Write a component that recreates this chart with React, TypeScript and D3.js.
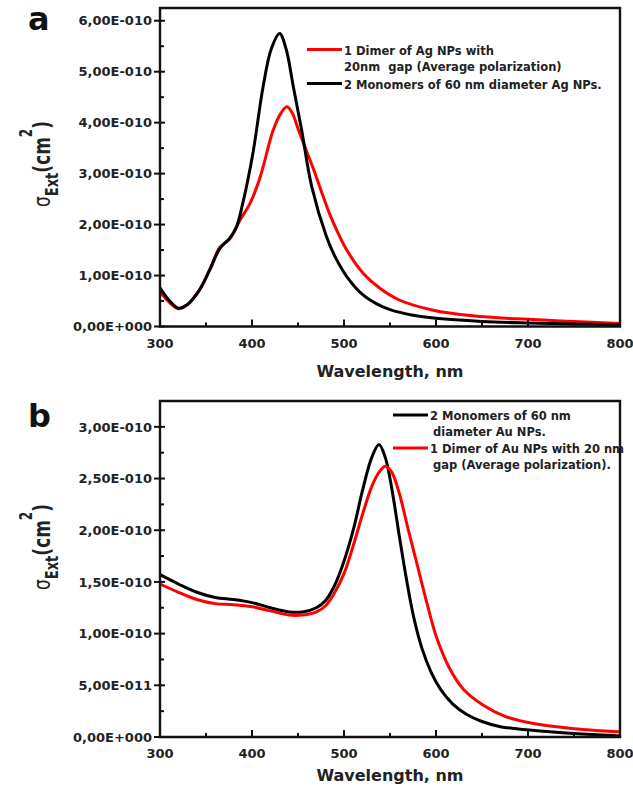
import React from 'react';
import * as d3 from 'd3';

// wavelengths in nm, extinction cross-sections in units of 1e-10 cm^2
const agMonomerNm = [300, 311, 320, 329, 343, 354, 365, 376, 383, 390, 401, 412, 421, 430, 437, 445, 454, 465, 481, 490, 503, 520, 535, 550, 575, 600, 650, 700, 750, 800];
const agMonomerExt = [0.76, 0.49, 0.36, 0.42, 0.72, 1.11, 1.53, 1.74, 1.95, 2.42, 3.40, 4.70, 5.45, 5.75, 5.45, 4.70, 3.85, 2.74, 1.76, 1.38, 0.98, 0.63, 0.45, 0.33, 0.22, 0.16, 0.10, 0.07, 0.05, 0.03];

const agDimerNm = [300, 311, 320, 329, 343, 354, 365, 376, 387, 398, 409, 423, 432, 438, 444, 450, 458, 467, 476, 485, 495, 503, 521, 539, 560, 597, 640, 688, 750, 800];
const agDimerExt = [0.68, 0.46, 0.35, 0.42, 0.72, 1.11, 1.55, 1.72, 2.09, 2.42, 2.94, 3.85, 4.20, 4.31, 4.18, 3.88, 3.50, 3.08, 2.62, 2.18, 1.78, 1.50, 1.04, 0.75, 0.52, 0.32, 0.21, 0.15, 0.10, 0.06];

const auMonomerNm = [300, 320, 340, 360, 380, 400, 420, 440, 455, 470, 480, 490, 500, 510, 520, 530, 538, 545, 552, 560, 568, 576, 585, 595, 605, 618, 633, 650, 670, 724, 800];
const auMonomerExt = [1.57, 1.48, 1.40, 1.35, 1.33, 1.30, 1.25, 1.21, 1.21, 1.25, 1.32, 1.47, 1.70, 2.00, 2.38, 2.70, 2.83, 2.70, 2.40, 1.95, 1.52, 1.15, 0.85, 0.62, 0.46, 0.32, 0.22, 0.15, 0.10, 0.05, 0.01];

const auDimerNm = [300, 320, 340, 360, 380, 400, 420, 440, 455, 470, 480, 490, 500, 510, 520, 530, 538, 545, 552, 560, 570, 580, 590, 600, 615, 630, 651, 675, 706, 750, 800];
const auDimerExt = [1.48, 1.40, 1.33, 1.29, 1.28, 1.26, 1.22, 1.18, 1.18, 1.21, 1.27, 1.40, 1.58, 1.85, 2.15, 2.42, 2.56, 2.62, 2.56, 2.36, 2.00, 1.65, 1.30, 0.98, 0.66, 0.46, 0.31, 0.20, 0.13, 0.08, 0.05];

const xTicks = [300, 400, 500, 600, 700, 800];
const xMinorTicks = [350, 450, 550, 650, 750];

const agYTicks = [0, 1, 2, 3, 4, 5, 6];
const agYLabels = ['0,00E+000', '1,00E-010', '2,00E-010', '3,00E-010', '4,00E-010', '5,00E-010', '6,00E-010'];
const agYMinor = [0.5, 1.5, 2.5, 3.5, 4.5, 5.5];

const auYTicks = [0, 0.5, 1, 1.5, 2, 2.5, 3];
const auYLabels = ['0,00E+000', '5,00E-011', '1,00E-010', '1,50E-010', '2,00E-010', '2,50E-010', '3,00E-010'];
const auYMinor = [0.25, 0.75, 1.25, 1.75, 2.25, 2.75];

const agLegend = [
  { color: '#f00', lines: ['1 Dimer of Ag NPs with', '20nm  gap (Average polarization)'] },
  { color: '#000', lines: ['2 Monomers of 60 nm diameter Ag NPs.'] },
];
const auLegend = [
  { color: '#000', lines: ['2 Monomers of 60 nm', 'diameter Au NPs.'] },
  { color: '#f00', lines: ['1 Dimer of Au NPs with 20 nm', 'gap (Average polarization).'] },
];

const FONT = 'DejaVu Sans';
const INK = '#222';

const pair = (nm: number[], v: number[]) => nm.map((d, i) => [d, v[i]] as [number, number]);

function Panel({ cfg }: { cfg: any }) {
  const left = 160, right = 620;
  const x = d3.scaleLinear().domain([300, 800]).range([left, right]);
  const y = d3.scaleLinear().domain([0, cfg.yMax]).range([cfg.bottom, cfg.top]);
  const line = d3.line<[number, number]>()
    .x(d => x(d[0]))
    .y(d => y(d[1]))
    .curve(d3.curveCatmullRom.alpha(0.5));

  return (
    <g>
      {cfg.series.map((s: any, i: number) => (
        <path key={i} d={line(s.data) || ''} fill="none" stroke={s.color} strokeWidth={3} strokeLinejoin="round" />
      ))}

      {/* frame */}
      <path d={`M${left},${cfg.top}H${right}V${cfg.bottom}H${left}Z`} fill="none" stroke="#111" strokeWidth={2.4} />

      {/* y axis */}
      {cfg.yTicks.map((t: number, i: number) => (
        <g key={'y' + i}>
          <line x1={left - 6} x2={left + 5} y1={y(t)} y2={y(t)} stroke="#111" strokeWidth={2} />
          <text x={152} y={y(t) + 4.7} textAnchor="end" fontFamily={FONT} fontWeight="bold" fontSize={13} fill={INK}>
            {cfg.yLabels[i]}
          </text>
        </g>
      ))}
      {cfg.yMinor.map((t: number, i: number) => (
        <line key={'ym' + i} x1={left} x2={left + 4} y1={y(t)} y2={y(t)} stroke="#111" strokeWidth={2} />
      ))}

      {/* x axis */}
      {xTicks.map(t => (
        <g key={'x' + t}>
          <line x1={x(t)} x2={x(t)} y1={cfg.bottom} y2={cfg.bottom - 7} stroke="#111" strokeWidth={2} />
          <text x={x(t)} y={cfg.bottom + 21} textAnchor="middle" fontFamily={FONT} fontWeight="bold" fontSize={13} fill={INK}>
            {t}
          </text>
        </g>
      ))}
      {xMinorTicks.map(t => (
        <line key={'xm' + t} x1={x(t)} x2={x(t)} y1={cfg.bottom} y2={cfg.bottom - 4} stroke="#111" strokeWidth={2} />
      ))}
      <text x={(left + right) / 2} y={cfg.bottom + cfg.xLabelDy} textAnchor="middle" fontFamily={FONT} fontWeight="bold" fontSize={16} fill={INK}>
        Wavelength, nm
      </text>

      {/* y label */}
      <text transform={`translate(50,${cfg.labelY}) rotate(-90) scale(1,1.4)`} textAnchor="middle" fontFamily={FONT} fill={INK}>
        <tspan fontSize={17}>σ</tspan>
        <tspan fontSize={13} fontWeight="bold" dy={5.7}>Ext</tspan>
        <tspan fontSize={17} fontWeight="bold" dy={-5.7}>(cm</tspan>
        <tspan fontSize={12} fontWeight="bold" dy={-13}>2</tspan>
        <tspan fontSize={17} fontWeight="bold" dy={13}>)</tspan>
      </text>

      {/* panel letter */}
      <text x={28} y={cfg.letterY} fontFamily={FONT} fontWeight="bold" fontSize={32} fill="#111">{cfg.letter}</text>

      {/* legend */}
      {cfg.legend.map((l: any, i: number) => (
        <g key={'l' + i}>
          <line x1={cfg.legendX} x2={cfg.legendX + 35} y1={cfg.legendY[i]} y2={cfg.legendY[i]} stroke={l.color} strokeWidth={3} />
          {l.lines.map((txt: string, j: number) => (
            <text key={j} x={cfg.legendX + 37 + (j > 0 ? cfg.indent : 0)} y={cfg.legendY[i] + 5 + j * 16.2}
              fontFamily={FONT} fontWeight="bold" fontSize={11.5} fill={INK} style={{ whiteSpace: 'pre' }}>
              {txt}
            </text>
          ))}
        </g>
      ))}
    </g>
  );
}

export default function App() {
  const panelA = {
    top: 8, bottom: 326.5, yMax: 6.25,
    yTicks: agYTicks, yLabels: agYLabels, yMinor: agYMinor,
    series: [
      { color: '#f00', data: pair(agDimerNm, agDimerExt) },
      { color: '#000', data: pair(agMonomerNm, agMonomerExt) },
    ],
    legend: agLegend, legendX: 307, legendY: [49.5, 83.5], indent: 0,
    labelY: 164, letter: 'a', letterY: 30, xLabelDy: 50,
  };
  const panelB = {
    top: 401, bottom: 737, yMax: 3.25,
    yTicks: auYTicks, yLabels: auYLabels, yMinor: auYMinor,
    series: [
      { color: '#000', data: pair(auMonomerNm, auMonomerExt) },
      { color: '#f00', data: pair(auDimerNm, auDimerExt) },
    ],
    legend: auLegend, legendX: 393, legendY: [415, 448], indent: 3,
    labelY: 547, letter: 'b', letterY: 427, xLabelDy: 44,
  };
  return (
    <svg width={633} height={786} style={{ position: 'absolute', left: 0, top: 0, background: '#fff' }}>
      <rect width={633} height={786} fill="#fff" />
      <Panel cfg={panelA} />
      <Panel cfg={panelB} />
    </svg>
  );
}
